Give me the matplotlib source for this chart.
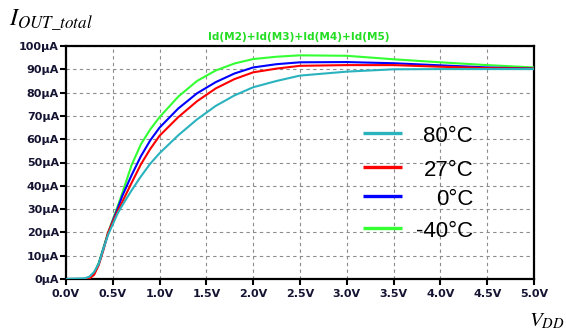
#!/usr/bin/env python3
"""Total output current vs. supply voltage at four temperatures."""

import matplotlib
matplotlib.use('Agg')
import matplotlib.pyplot as plt
from matplotlib.ticker import FuncFormatter

# Sweep of VDD (V) and summed drain current (uA) for each temperature
vdd = [0.0, 0.2, 0.25, 0.3, 0.35, 0.4, 0.45, 0.5, 0.55, 0.6, 0.7, 0.8, 0.9,
       1.0, 1.2, 1.4, 1.6, 1.8, 2.0, 2.25, 2.5, 3.0, 3.5, 4.0, 4.5, 5.0]

i_80c = [0.0, 0.3, 1.0, 3.0, 6.5, 13.0, 19.0, 23.5, 28.0, 31.5, 38.0, 44.0, 49.5,
         54.0, 61.7, 68.5, 74.3, 78.8, 82.3, 85.0, 87.3, 89.0, 90.0, 90.1, 90.1, 90.1]
i_27c = [0.0, 0.0, 0.2, 1.8, 6.0, 12.5, 20.0, 24.5, 29.0, 33.0, 41.2, 49.2, 55.8,
         61.5, 69.5, 76.3, 81.8, 85.8, 88.7, 90.3, 91.5, 91.8, 91.8, 91.1, 90.5, 90.3]
i_0c = [0.0, 0.0, 0.3, 2.3, 6.5, 13.0, 19.5, 25.0, 30.0, 35.5, 44.5, 52.7, 59.5,
        65.0, 73.2, 79.7, 84.5, 88.2, 90.8, 92.2, 93.0, 93.1, 92.6, 91.7, 90.8, 90.3]
i_m40c = [0.0, 0.0, 0.3, 2.5, 7.0, 13.5, 20.0, 25.5, 31.0, 36.7, 48.8, 57.8, 64.2,
          69.5, 78.3, 85.0, 89.5, 92.5, 94.4, 95.4, 96.0, 95.8, 94.3, 93.0, 91.8, 90.8]

labels = ['80\u00b0C', '27\u00b0C', '0\u00b0C', '-40\u00b0C']
colors = ['#2ab3bf', '#ff0000', '#0000ff', '#33ff33']

x_ticks = [0.0, 0.5, 1.0, 1.5, 2.0, 2.5, 3.0, 3.5, 4.0, 4.5, 5.0]
y_ticks = [0, 10, 20, 30, 40, 50, 60, 70, 80, 90, 100]

plt.rcParams['mathtext.fontset'] = 'stix'

fig = plt.figure(figsize=(5.66, 3.32), dpi=100)
ax = fig.add_axes([66 / 566, 53 / 332, 468 / 566, 233 / 332])

series = [i_80c, i_27c, i_0c, i_m40c]
# draw the hottest curve on top, as the simulator does
for vals, color in zip(series[::-1], colors[::-1]):
    ax.plot(vdd, vals, color=color, linewidth=1.5, zorder=3)

ax.set_xlim(0, 5)
ax.set_ylim(0, 100)
ax.set_xticks(x_ticks)
ax.set_yticks(y_ticks)
ax.xaxis.set_major_formatter(FuncFormatter(lambda v, p: f'{v:.1f}V'))
ax.yaxis.set_major_formatter(FuncFormatter(lambda v, p: f'{v:.0f}\u00b5A'))

tick_color = '#141432'
ax.tick_params(axis='both', direction='out', length=4.5, width=1.5, color='black',
               labelsize=8, labelcolor=tick_color)
ax.tick_params(axis='y', pad=0.5)
ax.tick_params(axis='x', pad=3)
for lbl in ax.get_xticklabels() + ax.get_yticklabels():
    lbl.set_fontweight('bold')

for sp in ax.spines.values():
    sp.set_linewidth(1.6)
    sp.set_color('black')

ax.grid(True, color='#8c8c8c', linestyle=(0, (3, 3)), linewidth=0.8)
ax.set_axisbelow(True)

# legend: short line segments with right-aligned labels
leg_y = [0.627, 0.481, 0.356, 0.219]
for lab, color, y in zip(labels, colors, leg_y):
    ax.plot([0.635, 0.718], [y, y], transform=ax.transAxes, color=color,
            linewidth=2.4, solid_capstyle='butt', zorder=4)
    ax.text(0.870, y - 0.014, lab, transform=ax.transAxes, ha='right', va='center',
            fontsize=16, family='Liberation Sans', color='black', zorder=4)

fig.text(299 / 566, 1 - 37 / 332, 'Id(M2)+Id(M3)+Id(M4)+Id(M5)', ha='center',
         va='center', fontsize=7.6, fontweight='bold', color='#22dd22')

fig.text(9 / 566, 1 - 26 / 332, r'$I_{OUT\_total}$', ha='left', va='baseline',
         fontsize=17.5, color='black')
fig.text(529 / 566, 1 - 326 / 332, r'$V_{DD}$', ha='left', va='baseline',
         fontsize=15, color='black')

fig.savefig('out.png', dpi=100)
